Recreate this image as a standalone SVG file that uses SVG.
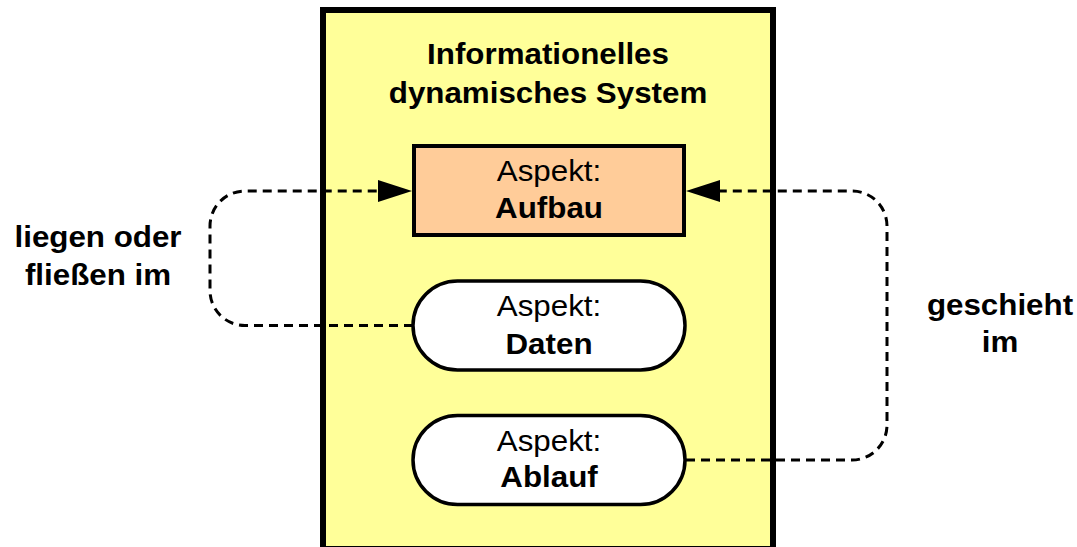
<svg xmlns="http://www.w3.org/2000/svg" width="1077" height="547" viewBox="0 0 1077 547">
  <style>
    .t { font-family: "Liberation Sans", Arial, sans-serif; font-size: 29px; fill: #000; text-anchor: middle; }
    .b { font-weight: bold; }
    .frame { fill: #FFFF99; stroke: #000; stroke-width: 6; }
    .rect { fill: #FFCC99; stroke: #000; stroke-width: 4; }
    .pill { fill: #FFFFFF; stroke: #000; stroke-width: 3.5; }
    .conn { fill: none; stroke: #000; stroke-width: 3; stroke-dasharray: 9 6; }
    .head { fill: #000; }
  </style>

  <!-- system frame -->
  <g id="system">
    <rect class="frame" x="323" y="10" width="450" height="539"/>
    <text class="t b" transform="translate(548,64) scale(1.08,1)">Informationelles</text>
    <text class="t b" transform="translate(548,103) scale(1.08,1)">dynamisches System</text>
  </g>

  <!-- connectors -->
  <g id="connectors">
    <path class="conn" d="M 413 325.5 H 245 A 35 35 0 0 1 210 290.5 V 226 A 35 35 0 0 1 245 191 H 382"/>
    <polygon class="head" points="412,191 378,180 378,202"/>
    <path class="conn" d="M 686 460 H 852 A 35 35 0 0 0 887 425 V 226 A 35 35 0 0 0 852 191 H 716"/>
    <polygon class="head" points="686,191 720,180 720,202"/>
  </g>

  <g id="aufbau">
    <rect class="rect" x="414" y="146" width="270" height="89"/>
    <text class="t" transform="translate(549,181) scale(1.08,1)">Aspekt:</text>
    <text class="t b" transform="translate(549,218) scale(1.08,1)">Aufbau</text>
  </g>

  <g id="daten">
    <rect class="pill" x="413" y="281" width="272" height="89" rx="44.5" ry="44.5"/>
    <text class="t" transform="translate(549,316) scale(1.08,1)">Aspekt:</text>
    <text class="t b" transform="translate(549,354) scale(1.08,1)">Daten</text>
  </g>

  <g id="ablauf">
    <rect class="pill" x="413" y="415.5" width="272" height="89" rx="44.5" ry="44.5"/>
    <text class="t" transform="translate(549,451) scale(1.08,1)">Aspekt:</text>
    <text class="t b" transform="translate(549,487) scale(1.08,1)">Ablauf</text>
  </g>

  <g id="label-left">
    <text class="t b" transform="translate(98,247) scale(1.08,1)">liegen oder</text>
    <text class="t b" transform="translate(98,285) scale(1.08,1)">fließen im</text>
  </g>

  <g id="label-right">
    <text class="t b" transform="translate(1000,315) scale(1.08,1)">geschieht</text>
    <text class="t b" transform="translate(1000,352) scale(1.08,1)">im</text>
  </g>
</svg>
